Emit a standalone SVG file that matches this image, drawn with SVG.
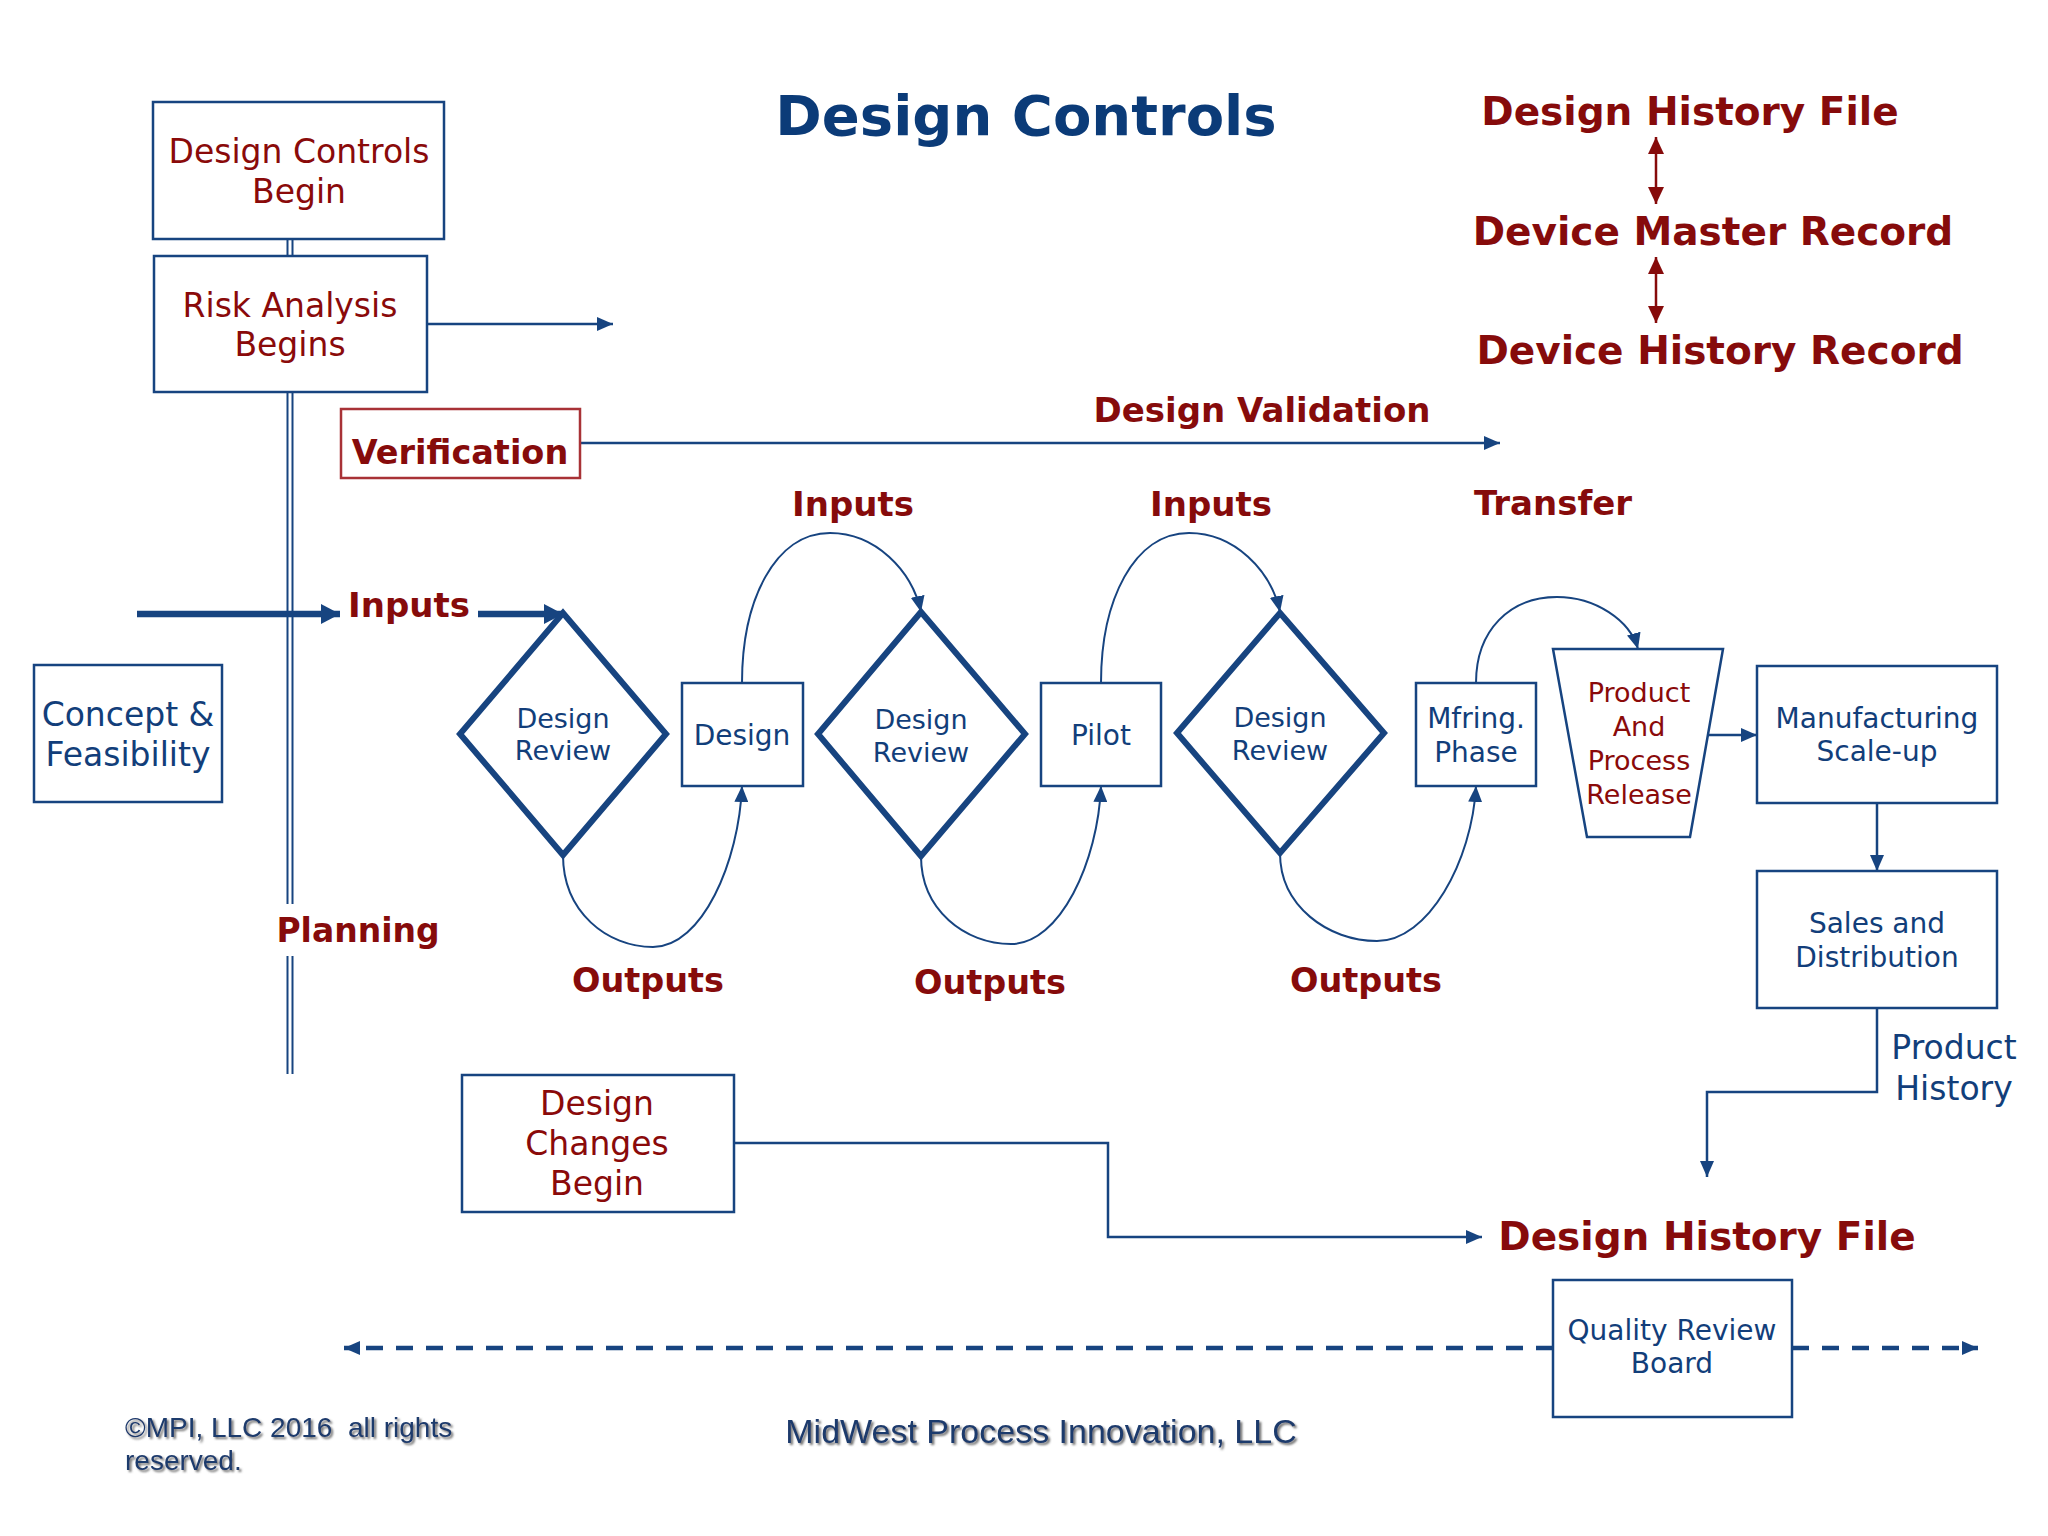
<svg xmlns="http://www.w3.org/2000/svg" width="2048" height="1536" viewBox="0 0 2048 1536">
<defs>
<style>
.bx{fill:#fff;stroke:#174480;stroke-width:2.5}
.dm{fill:#fff;stroke:#174480;stroke-width:6;stroke-linejoin:miter}
.ln{fill:none;stroke:#174480;stroke-width:2.5}
.cv{fill:none;stroke:#174480;stroke-width:2}
.thick{fill:none;stroke:#174480;stroke-width:6.5}
.dbl{fill:none;stroke:#174480;stroke-width:2}
.dash{fill:none;stroke:#174480;stroke-width:4.5;stroke-dasharray:17,13}
.tb{font-family:"DejaVu Sans",Verdana,sans-serif;fill:#123e7a;text-anchor:middle}
.tr{font-family:"DejaVu Sans",Verdana,sans-serif;fill:#8a0a0a;text-anchor:middle}
.rb{font-family:"DejaVu Sans",Verdana,sans-serif;font-weight:bold;fill:#860b0b;text-anchor:middle}
.ft{font-family:"Liberation Sans",Arial,sans-serif;fill:#1d3a6c;filter:url(#sh)}
</style>
<marker id="ah" markerUnits="userSpaceOnUse" viewBox="0 0 16 14" refX="16" refY="7" markerWidth="16" markerHeight="14" orient="auto"><path d="M0,0 L16,7 L0,14 z" fill="#174480"/></marker>
<marker id="ahb" markerUnits="userSpaceOnUse" viewBox="0 0 19 20" refX="19" refY="10" markerWidth="19" markerHeight="20" orient="auto"><path d="M0,0 L19,10 L0,20 z" fill="#174480"/></marker>
<marker id="ahr" markerUnits="userSpaceOnUse" viewBox="0 0 17 16" refX="17" refY="8" markerWidth="17" markerHeight="16" orient="auto-start-reverse"><path d="M0,0 L17,8 L0,16 z" fill="#860b0b"/></marker>
<filter id="sh" x="-5%" y="-20%" width="110%" height="160%"><feDropShadow dx="2" dy="2" stdDeviation="1" flood-color="#555" flood-opacity="0.85"/></filter>
</defs>
<rect width="2048" height="1536" fill="#fff"/>

<g id="connectors">
<path class="dbl" d="M287.5,239 V256 M292.5,239 V256 M287.5,392 V904 M292.5,392 V904 M287.5,956 V1074 M292.5,956 V1074"/>
<path class="ln" d="M427,324 H613" marker-end="url(#ah)"/>
<path class="ln" d="M580,443 H1500" marker-end="url(#ah)"/>
<path class="thick" d="M137,614 H340" marker-end="url(#ahb)"/>
<path class="thick" d="M478,614 H563" marker-end="url(#ahb)"/>
<path class="cv" d="M742,683 C742,600 775,533 830,533 C875,533 912,570 921,612" marker-end="url(#ah)"/>
<path class="cv" d="M1101,683 C1101,600 1134,533 1189,533 C1234,533 1271,570 1280,612" marker-end="url(#ah)"/>
<path class="cv" d="M1476,683 C1476,630 1510,597 1557,597 C1595,597 1630,620 1638,649" marker-end="url(#ah)"/>
<path class="cv" d="M563,855 C563,912 607,947 653,947 C702,947 739,862 742,786" marker-end="url(#ah)"/>
<path class="cv" d="M921,856 C921,910 965,944 1011,944 C1060,944 1098,862 1101,786" marker-end="url(#ah)"/>
<path class="cv" d="M1280,853 C1280,906 1328,941 1377,941 C1428,941 1472,862 1476,786" marker-end="url(#ah)"/>
<path class="ln" d="M1708,735 H1757" marker-end="url(#ah)"/>
<path class="ln" d="M1877,803 V871" marker-end="url(#ah)"/>
<path class="ln" d="M1877,1008 V1092 H1707 V1177" marker-end="url(#ah)"/>
<path class="ln" d="M734,1143 H1108 V1237 H1482" marker-end="url(#ah)"/>
<path class="dash" d="M1553,1348 H344" marker-end="url(#ah)"/>
<path class="dash" d="M1792,1348 H1978" marker-end="url(#ah)"/>
<path d="M1656,137 V204" fill="none" stroke="#860b0b" stroke-width="2.5" marker-start="url(#ahr)" marker-end="url(#ahr)"/>
<path d="M1656,257 V323" fill="none" stroke="#860b0b" stroke-width="2.5" marker-start="url(#ahr)" marker-end="url(#ahr)"/>
</g>

<g id="title"><text x="1026" y="135" font-family="'DejaVu Sans',Verdana,sans-serif" font-weight="bold" font-size="56" fill="#0b3b78" text-anchor="middle">Design Controls</text></g>

<g id="dhf-top"><text class="rb" x="1690" y="125" font-size="39">Design History File</text></g>
<g id="dmr"><text class="rb" x="1713" y="245" font-size="39">Device Master Record</text></g>
<g id="dhr"><text class="rb" x="1720" y="364" font-size="39">Device History Record</text></g>

<g id="design-controls-begin">
<rect class="bx" x="153" y="102" width="291" height="137"/>
<text class="tr" x="299" y="163" font-size="33">Design Controls</text>
<text class="tr" x="299" y="203" font-size="33">Begin</text>
</g>
<g id="risk-analysis">
<rect class="bx" x="154" y="256" width="273" height="136"/>
<text class="tr" x="290" y="317" font-size="33">Risk Analysis</text>
<text class="tr" x="290" y="356" font-size="33">Begins</text>
</g>
<g id="verification">
<rect x="341" y="409" width="239" height="69" fill="#fff" stroke="#a83236" stroke-width="2.5"/>
<text class="rb" x="460" y="464" font-size="33.5">Verification</text>
</g>
<g id="labels">
<text class="rb" x="1262" y="422" font-size="34">Design Validation</text>
<text class="rb" x="1553" y="515" font-size="34">Transfer</text>
<text class="rb" x="409" y="617" font-size="34">Inputs</text>
<text class="rb" x="853" y="516" font-size="34">Inputs</text>
<text class="rb" x="1211" y="516" font-size="34">Inputs</text>
<text class="rb" x="648" y="992" font-size="33.5">Outputs</text>
<text class="rb" x="990" y="994" font-size="33.5">Outputs</text>
<text class="rb" x="1366" y="992" font-size="33.5">Outputs</text>
<text class="rb" x="358" y="942" font-size="33">Planning</text>
</g>

<g id="concept">
<rect class="bx" x="34" y="665" width="188" height="137"/>
<text class="tb" x="128" y="726" font-size="33">Concept &amp;</text>
<text class="tb" x="128" y="766" font-size="33">Feasibility</text>
</g>
<g id="review1">
<polygon class="dm" points="563,613 666,734 563,855 460,734"/>
<text class="tb" x="563" y="728" font-size="27">Design</text>
<text class="tb" x="563" y="760" font-size="27">Review</text>
</g>
<g id="design">
<rect class="bx" x="682" y="683" width="121" height="103"/>
<text class="tb" x="742" y="745" font-size="28">Design</text>
</g>
<g id="review2">
<polygon class="dm" points="921,612 1025,734 921,856 818,734"/>
<text class="tb" x="921" y="729" font-size="27">Design</text>
<text class="tb" x="921" y="762" font-size="27">Review</text>
</g>
<g id="pilot">
<rect class="bx" x="1041" y="683" width="120" height="103"/>
<text class="tb" x="1101" y="745" font-size="28">Pilot</text>
</g>
<g id="review3">
<polygon class="dm" points="1280,613 1384,733 1280,853 1177,733"/>
<text class="tb" x="1280" y="727" font-size="27">Design</text>
<text class="tb" x="1280" y="760" font-size="27">Review</text>
</g>
<g id="mfring">
<rect class="bx" x="1416" y="683" width="120" height="103"/>
<text class="tb" x="1476" y="728" font-size="28">Mfring.</text>
<text class="tb" x="1476" y="762" font-size="28">Phase</text>
</g>
<g id="release">
<polygon class="bx" points="1553,649 1723,649 1690,837 1587,837"/>
<text class="tr" x="1639" y="702" font-size="27">Product</text>
<text class="tr" x="1639" y="736" font-size="27">And</text>
<text class="tr" x="1639" y="770" font-size="27">Process</text>
<text class="tr" x="1639" y="804" font-size="27">Release</text>
</g>
<g id="manufacturing">
<rect class="bx" x="1757" y="666" width="240" height="137"/>
<text class="tb" x="1877" y="728" font-size="28">Manufacturing</text>
<text class="tb" x="1877" y="761" font-size="28">Scale-up</text>
</g>
<g id="sales">
<rect class="bx" x="1757" y="871" width="240" height="137"/>
<text class="tb" x="1877" y="933" font-size="28">Sales and</text>
<text class="tb" x="1877" y="967" font-size="28">Distribution</text>
</g>
<g id="product-history">
<text class="tb" x="1954" y="1059" font-size="33">Product</text>
<text class="tb" x="1954" y="1100" font-size="33">History</text>
</g>
<g id="design-changes">
<rect class="bx" x="462" y="1075" width="272" height="137"/>
<text class="tr" x="597" y="1115" font-size="33">Design</text>
<text class="tr" x="597" y="1155" font-size="33">Changes</text>
<text class="tr" x="597" y="1195" font-size="33">Begin</text>
</g>
<g id="dhf-bottom"><text class="rb" x="1707" y="1250" font-size="39">Design History File</text></g>
<g id="quality">
<rect class="bx" x="1553" y="1280" width="239" height="137"/>
<text class="tb" x="1672" y="1340" font-size="28">Quality Review</text>
<text class="tb" x="1672" y="1373" font-size="28">Board</text>
</g>
<g id="footer">
<text class="ft" x="125" y="1437" font-size="28" xml:space="preserve">©MPI, LLC 2016  all rights</text>
<text class="ft" x="125" y="1470" font-size="28">reserved.</text>
<text class="ft" x="1041" y="1443" font-size="34" text-anchor="middle">MidWest Process Innovation, LLC</text>
</g>
</svg>
